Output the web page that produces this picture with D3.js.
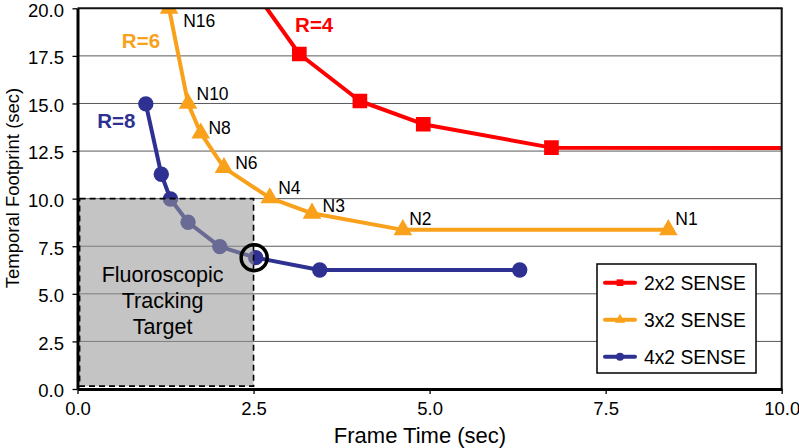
<!DOCTYPE html>
<html>
<head>
<meta charset="utf-8">
<script src="https://cdn.jsdelivr.net/npm/d3@7"></script>
<style>
  html, body { margin: 0; padding: 0; background: #fff; }
  svg { display: block; font-family: "Liberation Sans", Arial, Helvetica, sans-serif; }
</style>
</head>
<body>
<svg id="chart" width="799" height="448"></svg>
<script>
// ---- data ----
const xTicks = [0, 2.5, 5, 7.5, 10];
const yTicks = [0, 2.5, 5, 7.5, 10, 12.5, 15, 17.5, 20];

const series2x2 = { name: "2x2 SENSE", tag: "R=4",
  x: [2.3, 3.15, 4.01, 4.91, 6.73, 11],
  y: [22, 17.6, 15.13, 13.91, 12.68, 12.65] };
const series3x2 = { name: "3x2 SENSE", tag: "R=6",
  x: [1.30, 1.57, 1.75, 2.08, 2.73, 3.33, 4.62, 8.39],
  y: [20.0, 15.0, 13.44, 11.63, 10.04, 9.23, 8.36, 8.36] };
const series4x2 = { name: "4x2 SENSE", tag: "R=8",
  x: [0.97, 1.19, 1.32, 1.57, 2.02, 2.53, 3.44, 6.28],
  y: [14.98, 11.28, 9.98, 8.76, 7.48, 6.90, 6.25, 6.25] };

// N labels for the 3x2 series (text, anchor in data units)
const nLabels = ["N16", "N10", "N8", "N6", "N4", "N3", "N2", "N1"];
const nLabelX = [1.50, 1.69, 1.86, 2.24, 2.85, 3.48, 4.71, 8.49];
const nLabelY = [19.0, 15.2, 13.39, 11.55, 10.25, 9.28, 8.62, 8.62];

// R tags (data units)
const tagX = [3.09, 0.63, 0.28];
const tagY = [18.77, 17.90, 13.70];

// tracking target region
const targetX = [0.03, 2.5];
const targetY = [0.15, 10];
const targetLines = ["Fluoroscopic", "Tracking", "Target"];
const highlightIndex = 5; // highlighted 4x2 point

// ---- layout ----
const svg = d3.select("#chart");
const L = 77.5, R = 781.7, T = 8.3, B = 389;
const x = d3.scaleLinear().domain([0, 10]).range([L, R]);
const y = d3.scaleLinear().domain([0, 20]).range([B, T]);

const colors = { "2x2 SENSE": "#ff0000", "3x2 SENSE": "#f9a11b", "4x2 SENSE": "#2e3192" };
const FONT = '"Liberation Sans", Arial, Helvetica, sans-serif';

svg.append("defs").append("clipPath").attr("id", "plotclip")
  .append("rect").attr("x", L).attr("y", T).attr("width", R - L).attr("height", B - T);

// gridlines
svg.append("g").selectAll("line")
  .data(yTicks.filter(d => d > 0 && d < 20))
  .join("line")
  .attr("x1", L).attr("x2", R)
  .attr("y1", d => y(d)).attr("y2", d => y(d))
  .attr("stroke", "#5a5a5a").attr("stroke-width", 1);

// series
const plot = svg.append("g").attr("clip-path", "url(#plotclip)");
const line = d3.line().x(d => x(d[0])).y(d => y(d[1]));
function pts(s) { return s.x.map((v, i) => [v, s.y[i]]); }

function drawSeries(s, shape, size) {
  const c = colors[s.name];
  const p = pts(s);
  plot.append("path").datum(p).attr("d", line)
    .attr("fill", "none").attr("stroke", c).attr("stroke-width", 4)
    .attr("stroke-linejoin", "round");
  const sym = d3.symbol().type(shape).size(size);
  plot.append("g").selectAll("path").data(p).join("path")
    .attr("transform", d => `translate(${x(d[0])},${y(d[1])})`)
    .attr("d", sym).attr("fill", c);
}
drawSeries(series2x2, d3.symbolSquare, 215);
drawSeries(series3x2, d3.symbolTriangle, 150);
drawSeries(series4x2, d3.symbolCircle, 185);

// tracking target box (semi-transparent, on top of lines)
svg.append("rect")
  .attr("x", x(targetX[0])).attr("y", y(targetY[1]))
  .attr("width", x(targetX[1]) - x(targetX[0]))
  .attr("height", y(targetY[0]) - y(targetY[1]))
  .attr("fill", "rgb(152,152,152)").attr("fill-opacity", 0.57)
  .attr("stroke", "#000").attr("stroke-width", 1.6)
  .attr("stroke-dasharray", "6,4");

const tcx = (x(targetX[0]) + x(targetX[1])) / 2 - 4;
svg.append("g").selectAll("text").data(targetLines).join("text")
  .attr("x", tcx).attr("y", (d, i) => 281.7 + i * 26.2)
  .attr("text-anchor", "middle").attr("font-size", 21.5)
  .attr("font-family", FONT).attr("fill", "#000").text(d => d);

// highlight circle
svg.append("circle")
  .attr("cx", x(series4x2.x[highlightIndex]) - 1.5)
  .attr("cy", y(series4x2.y[highlightIndex]))
  .attr("r", 13).attr("fill", "none")
  .attr("stroke", "#000").attr("stroke-width", 3.5);

// N labels
svg.append("g").selectAll("text").data(nLabels).join("text")
  .attr("x", (d, i) => x(nLabelX[i])).attr("y", (d, i) => y(nLabelY[i]))
  .attr("font-size", 17.5).attr("font-family", FONT).attr("fill", "#000")
  .text(d => d);

// R tags
const tagSeries = [series2x2, series3x2, series4x2];
svg.append("g").selectAll("text").data(tagSeries).join("text")
  .attr("x", (d, i) => x(tagX[i])).attr("y", (d, i) => y(tagY[i]))
  .attr("font-size", 20.5).attr("font-weight", "bold").attr("font-family", FONT)
  .attr("fill", d => colors[d.name]).text(d => d.tag);

// borders top/right
svg.append("line").attr("x1", L).attr("x2", R + 1).attr("y1", T).attr("y2", T)
  .attr("stroke", "#111").attr("stroke-width", 2);
svg.append("line").attr("x1", R).attr("x2", R).attr("y1", T).attr("y2", B)
  .attr("stroke", "#111").attr("stroke-width", 2);

// axes
const fmt = d3.format(".1f");
const gx = svg.append("g").attr("transform", `translate(0,${B})`)
  .call(d3.axisBottom(x).tickValues(xTicks).tickFormat(fmt).tickSize(5).tickSizeOuter(0).tickPadding(8));
const gy = svg.append("g").attr("transform", `translate(${L},0)`)
  .call(d3.axisLeft(y).tickValues(yTicks).tickFormat(fmt).tickSize(5).tickSizeOuter(0).tickPadding(8.5));
[gx, gy].forEach(g => {
  g.select(".domain").attr("stroke", "#000").attr("stroke-width", 3);
  g.selectAll(".tick line").attr("stroke", "#000").attr("stroke-width", 1.3);
  g.selectAll(".tick text").attr("font-size", 18.5).attr("font-family", FONT).attr("fill", "#000");
});
gy.selectAll(".tick text").attr("dy", "0.42em");

// axis titles
svg.append("text").attr("x", 420).attr("y", 442.5).attr("text-anchor", "middle")
  .attr("font-size", 22).attr("font-family", FONT).attr("fill", "#000")
  .text("Frame Time (sec)");
svg.append("text").attr("transform", "translate(18.5,188) rotate(-90)")
  .attr("text-anchor", "middle").attr("font-size", 18.5).attr("font-family", FONT)
  .attr("fill", "#000").text("Temporal Footprint (sec)");

// legend
const lg = svg.append("g");
lg.append("rect").attr("x", 597).attr("y", 264).attr("width", 159).attr("height", 109)
  .attr("fill", "#fff").attr("stroke", "#000").attr("stroke-width", 1.5);
const legendItems = [
  { s: series2x2, shape: d3.symbolSquare, size: 45 },
  { s: series3x2, shape: d3.symbolTriangle, size: 45 },
  { s: series4x2, shape: d3.symbolCircle, size: 50 }
];
legendItems.forEach((it, i) => {
  const yy = 282.7 + i * 37;
  const c = colors[it.s.name];
  lg.append("line").attr("x1", 605).attr("x2", 635).attr("y1", yy).attr("y2", yy)
    .attr("stroke", c).attr("stroke-width", 4).attr("stroke-linecap", "round");
  lg.append("path").attr("transform", `translate(620,${yy})`)
    .attr("d", d3.symbol().type(it.shape).size(it.size)).attr("fill", c);
  lg.append("text").attr("x", 644).attr("y", yy + 6.8)
    .attr("font-size", 19.3).attr("font-family", FONT).attr("fill", "#000")
    .text(it.s.name);
});
</script>
</body>
</html>
